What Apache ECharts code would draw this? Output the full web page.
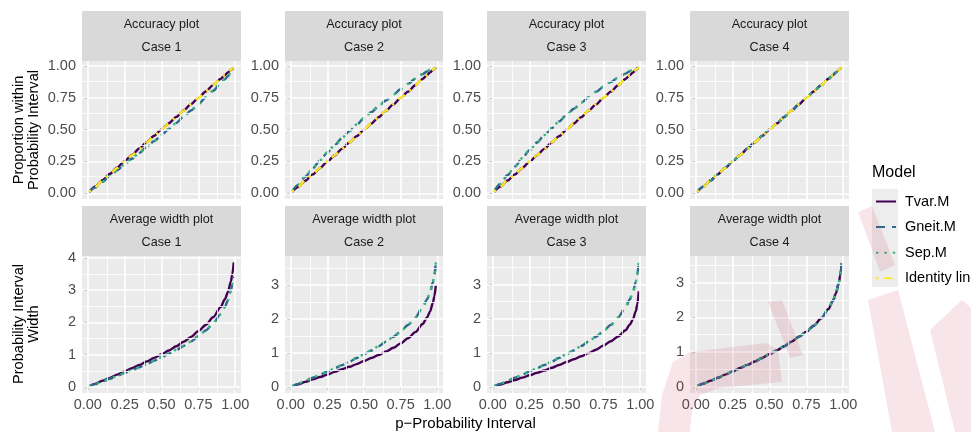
<!DOCTYPE html>
<html>
<head>
<meta charset="utf-8">
<script src="https://cdn.jsdelivr.net/npm/echarts@6/dist/echarts.min.js"></script>
<style>
html, body { margin: 0; padding: 0; background: #fff; }
#chart { width: 971px; height: 432px; }
</style>
</head>
<body>
<div id="chart"></div>
<script>
// p grid shared by every curve
const pGrid = [0.01, 0.05, 0.10, 0.15, 0.20, 0.25, 0.30, 0.35, 0.40, 0.45, 0.50, 0.55,
               0.60, 0.65, 0.70, 0.75, 0.80, 0.85, 0.90, 0.93, 0.95, 0.97, 0.98, 0.99];

const caseNames = ['Case 1', 'Case 2', 'Case 3', 'Case 4'];
const modelNames = ['Tvar.M', 'Gneit.M', 'Sep.M', 'Identity line'];

// accuracy plot: proportion within probability interval
const acc1Tvar  = [0.011, 0.052, 0.102, 0.153, 0.203, 0.253, 0.302, 0.352, 0.402, 0.452, 0.502, 0.551, 0.601, 0.651, 0.701, 0.750, 0.800, 0.850, 0.899, 0.929, 0.949, 0.969, 0.979, 0.989];
const acc1Gneit = [0.009, 0.045, 0.090, 0.136, 0.181, 0.227, 0.272, 0.318, 0.364, 0.410, 0.457, 0.505, 0.553, 0.602, 0.651, 0.701, 0.753, 0.806, 0.862, 0.897, 0.921, 0.948, 0.962, 0.977];
const acc1Sep   = [0.009, 0.046, 0.091, 0.137, 0.182, 0.228, 0.273, 0.319, 0.365, 0.411, 0.458, 0.506, 0.554, 0.603, 0.652, 0.702, 0.754, 0.807, 0.863, 0.898, 0.922, 0.949, 0.963, 0.978];

const acc2Tvar  = [0.010, 0.049, 0.099, 0.149, 0.199, 0.249, 0.299, 0.349, 0.399, 0.449, 0.499, 0.549, 0.599, 0.649, 0.699, 0.749, 0.799, 0.849, 0.899, 0.929, 0.949, 0.969, 0.979, 0.989];
const acc2Gneit = [0.014, 0.066, 0.130, 0.195, 0.258, 0.320, 0.378, 0.434, 0.488, 0.540, 0.590, 0.638, 0.685, 0.730, 0.775, 0.818, 0.860, 0.900, 0.937, 0.958, 0.971, 0.983, 0.989, 0.995];
const acc2Sep   = [0.015, 0.067, 0.131, 0.196, 0.259, 0.321, 0.379, 0.435, 0.489, 0.541, 0.591, 0.639, 0.686, 0.731, 0.776, 0.819, 0.861, 0.901, 0.938, 0.959, 0.972, 0.984, 0.990, 0.996];

const acc3Tvar  = [0.010, 0.050, 0.100, 0.149, 0.199, 0.249, 0.299, 0.349, 0.399, 0.449, 0.499, 0.549, 0.599, 0.649, 0.699, 0.749, 0.799, 0.849, 0.899, 0.929, 0.949, 0.969, 0.979, 0.989];
const acc3Gneit = [0.015, 0.072, 0.142, 0.210, 0.276, 0.339, 0.399, 0.457, 0.512, 0.565, 0.616, 0.665, 0.711, 0.755, 0.797, 0.837, 0.874, 0.909, 0.941, 0.960, 0.972, 0.983, 0.989, 0.995];
const acc3Sep   = [0.016, 0.073, 0.143, 0.211, 0.277, 0.340, 0.400, 0.458, 0.513, 0.566, 0.617, 0.666, 0.712, 0.756, 0.798, 0.838, 0.875, 0.910, 0.942, 0.961, 0.973, 0.984, 0.990, 0.996];

const acc4Tvar  = [0.010, 0.050, 0.100, 0.150, 0.200, 0.250, 0.300, 0.350, 0.400, 0.450, 0.500, 0.550, 0.600, 0.650, 0.700, 0.750, 0.800, 0.850, 0.900, 0.930, 0.950, 0.970, 0.980, 0.990];
const acc4Gneit = [0.010, 0.051, 0.101, 0.151, 0.201, 0.251, 0.301, 0.351, 0.401, 0.451, 0.501, 0.551, 0.601, 0.651, 0.700, 0.750, 0.800, 0.850, 0.900, 0.930, 0.950, 0.970, 0.980, 0.990];
const acc4Sep   = [0.010, 0.051, 0.101, 0.151, 0.201, 0.251, 0.301, 0.351, 0.401, 0.451, 0.501, 0.551, 0.601, 0.651, 0.700, 0.750, 0.800, 0.850, 0.900, 0.930, 0.950, 0.970, 0.980, 0.990];

// average width plot: probability interval width
const wid1Tvar  = [0.019, 0.094, 0.19, 0.28, 0.38, 0.48, 0.58, 0.68, 0.79, 0.90, 1.01, 1.13, 1.26, 1.40, 1.55, 1.73, 1.92, 2.16, 2.47, 2.72, 2.94, 3.26, 3.49, 3.86];
const wid1Gneit = [0.017, 0.085, 0.17, 0.25, 0.34, 0.43, 0.52, 0.61, 0.71, 0.81, 0.92, 1.03, 1.14, 1.27, 1.41, 1.57, 1.75, 1.97, 2.25, 2.48, 2.68, 2.98, 3.17, 3.42];
const wid1Sep   = [0.017, 0.086, 0.17, 0.25, 0.34, 0.43, 0.52, 0.61, 0.71, 0.81, 0.92, 1.03, 1.15, 1.27, 1.41, 1.57, 1.75, 1.97, 2.25, 2.48, 2.68, 2.98, 3.18, 3.43];

const wid2Tvar  = [0.015, 0.073, 0.146, 0.22, 0.29, 0.36, 0.44, 0.52, 0.59, 0.67, 0.76, 0.85, 0.94, 1.04, 1.15, 1.28, 1.43, 1.61, 1.85, 2.04, 2.21, 2.47, 2.66, 2.99];
const wid2Gneit = [0.018, 0.089, 0.18, 0.27, 0.36, 0.45, 0.55, 0.64, 0.74, 0.85, 0.96, 1.07, 1.20, 1.33, 1.47, 1.63, 1.82, 2.04, 2.34, 2.57, 2.78, 3.08, 3.30, 3.64];
const wid2Sep   = [0.018, 0.090, 0.18, 0.27, 0.36, 0.45, 0.55, 0.64, 0.74, 0.85, 0.96, 1.07, 1.20, 1.33, 1.47, 1.63, 1.82, 2.04, 2.34, 2.57, 2.78, 3.09, 3.31, 3.66];

const wid3Tvar  = [0.014, 0.068, 0.136, 0.20, 0.27, 0.34, 0.41, 0.48, 0.56, 0.64, 0.73, 0.81, 0.90, 0.99, 1.09, 1.21, 1.34, 1.48, 1.66, 1.83, 1.98, 2.22, 2.42, 2.80];
const wid3Gneit = [0.018, 0.089, 0.18, 0.27, 0.36, 0.45, 0.55, 0.64, 0.74, 0.85, 0.96, 1.07, 1.20, 1.33, 1.47, 1.63, 1.82, 2.04, 2.34, 2.57, 2.78, 3.08, 3.30, 3.64];
const wid3Sep   = [0.018, 0.090, 0.18, 0.27, 0.36, 0.45, 0.55, 0.64, 0.74, 0.85, 0.96, 1.07, 1.20, 1.33, 1.47, 1.63, 1.82, 2.04, 2.34, 2.57, 2.78, 3.09, 3.31, 3.66];

const wid4Tvar  = [0.017, 0.087, 0.175, 0.26, 0.35, 0.44, 0.54, 0.63, 0.73, 0.83, 0.94, 1.05, 1.17, 1.30, 1.44, 1.59, 1.76, 1.97, 2.24, 2.48, 2.69, 3.00, 3.22, 3.57];
const wid4Gneit = [0.017, 0.087, 0.175, 0.26, 0.35, 0.44, 0.54, 0.63, 0.73, 0.83, 0.94, 1.05, 1.17, 1.30, 1.44, 1.59, 1.76, 1.97, 2.24, 2.48, 2.69, 3.00, 3.22, 3.58];
const wid4Sep   = [0.017, 0.087, 0.175, 0.26, 0.35, 0.44, 0.54, 0.63, 0.73, 0.83, 0.94, 1.05, 1.17, 1.30, 1.44, 1.59, 1.76, 1.97, 2.24, 2.48, 2.69, 3.00, 3.22, 3.58];

// ticks
const xTicks = [0, 0.25, 0.5, 0.75, 1];
const xMinor = [0.125, 0.375, 0.625, 0.875];
const accTicks = [0, 0.25, 0.5, 0.75, 1];
const accMinor = [0.125, 0.375, 0.625, 0.875];
const widTicks = [[0, 1, 2, 3, 4], [0, 1, 2, 3], [0, 1, 2, 3], [0, 1, 2, 3]];
const widMinor = [[0.5, 1.5, 2.5, 3.5], [0.5, 1.5, 2.5, 3.5], [0.5, 1.5, 2.5, 3.5], [0.5, 1.5, 2.5, 3.5]];
const widMax = [4.06, 3.85, 3.84, 3.77];
const widMin = [-0.19, -0.18, -0.18, -0.18];

const accData = [
    [acc1Tvar, acc1Gneit, acc1Sep],
    [acc2Tvar, acc2Gneit, acc2Sep],
    [acc3Tvar, acc3Gneit, acc3Sep],
    [acc4Tvar, acc4Gneit, acc4Sep]
];
const widData = [
    [wid1Tvar, wid1Gneit, wid1Sep],
    [wid2Tvar, wid2Gneit, wid2Sep],
    [wid3Tvar, wid3Gneit, wid3Sep],
    [wid4Tvar, wid4Gneit, wid4Sep]
];

const font = '"Liberation Sans", Arial, sans-serif';
const colLeft = [82, 285, 487, 690];
const colWidth = [159, 158, 159, 159];
const rowTop = [61, 256];
const rowHeight = [138, 137];
const stripTop = [11, 206];

const styles = {
    'Tvar.M': { color: '#440154', width: 2.4, type: 'solid' },
    'Gneit.M': { color: '#31688E', width: 2.4, type: [9, 7] },
    'Sep.M': { color: '#35B779', width: 2.4, type: [2.4, 6] },
    'Identity line': { color: '#FDE725', width: 2.4, type: [2.4, 6, 8, 6] }
};

let grids = [];
let xAxes = [];
let yAxes = [];
let series = [];

function lineSeries(name, idx, ys, z) {
    return {
        type: 'line',
        name: name,
        xAxisIndex: idx,
        yAxisIndex: idx,
        data: pGrid.map((p, k) => [p, ys[k]]),
        symbol: 'none',
        smooth: 0.3,
        smoothMonotone: 'x',
        lineStyle: styles[name],
        itemStyle: { color: styles[name].color },
        z: z,
        silent: true,
        animation: false
    };
}

// white panel grid lines, hung on an invisible copy of the first curve
function gridLines(idx, ys, xs, xm, yt, ym) {
    let d = [];
    xs.forEach(v => d.push({ xAxis: v, lineStyle: { color: '#fff', width: 1.6, type: 'solid' } }));
    xm.forEach(v => d.push({ xAxis: v, lineStyle: { color: '#fff', width: 0.8, type: 'solid' } }));
    yt.forEach(v => d.push({ yAxis: v, lineStyle: { color: '#fff', width: 1.6, type: 'solid' } }));
    ym.forEach(v => d.push({ yAxis: v, lineStyle: { color: '#fff', width: 0.8, type: 'solid' } }));
    return {
        type: 'line',
        xAxisIndex: idx,
        yAxisIndex: idx,
        data: pGrid.map((p, k) => [p, ys[k]]),
        symbol: 'none',
        lineStyle: { opacity: 0 },
        z: 1,
        silent: true,
        animation: false,
        markLine: { silent: true, symbol: ['none', 'none'], label: { show: false }, animation: false, data: d }
    };
}

for (let r = 0; r < 2; r++) {
    for (let c = 0; c < 4; c++) {
        const idx = r * 4 + c;
        grids.push({
            left: colLeft[c], top: rowTop[r], width: colWidth[c], height: rowHeight[r],
            show: true, backgroundColor: '#EBEBEB', borderWidth: 0
        });
        xAxes.push({
            type: 'value', gridIndex: idx, min: -0.039, max: 1.039,
            splitLine: { show: false },
            axisLine: { show: false },
            axisTick: { show: r === 1, length: 3.7, lineStyle: { color: '#333', width: 1 }, customValues: xTicks },
            axisLabel: {
                show: r === 1, customValues: xTicks, formatter: v => v.toFixed(2),
                fontSize: 14.5, color: '#4D4D4D', margin: 4, fontFamily: font
            }
        });
        const yt = r === 0 ? accTicks : widTicks[c];
        yAxes.push({
            type: 'value', gridIndex: idx,
            min: r === 0 ? -0.045 : widMin[c],
            max: r === 0 ? 1.04 : widMax[c],
            splitLine: { show: false },
            axisLine: { show: false },
            axisTick: { show: true, length: 3.7, lineStyle: { color: '#333', width: 1 }, customValues: yt },
            axisLabel: {
                customValues: yt, formatter: v => (r === 0 ? v.toFixed(2) : String(v)),
                fontSize: 14.5, color: '#4D4D4D', margin: 6, fontFamily: font
            }
        });
        if (r === 0) {
            series.push(gridLines(idx, accData[c][0], xTicks, xMinor, accTicks, accMinor));
            series.push(lineSeries('Tvar.M', idx, accData[c][0], 2));
            series.push(lineSeries('Gneit.M', idx, accData[c][1], 3));
            series.push(lineSeries('Sep.M', idx, accData[c][2], 4));
            series.push(lineSeries('Identity line', idx, pGrid, 5));
        } else {
            series.push(gridLines(idx, widData[c][0], xTicks, xMinor, widTicks[c], widMinor[c]));
            series.push(lineSeries('Tvar.M', idx, widData[c][0], 2));
            series.push(lineSeries('Gneit.M', idx, widData[c][1], 3));
            series.push(lineSeries('Sep.M', idx, widData[c][2], 4));
        }
    }
}

// strips, titles, legend title and key background
let graphics = [];
const stripTitles = ['Accuracy plot', 'Average width plot'];
for (let r = 0; r < 2; r++) {
    for (let c = 0; c < 4; c++) {
        graphics.push({
            type: 'rect', shape: { x: colLeft[c], y: stripTop[r], width: colWidth[c], height: 50 },
            style: { fill: '#D9D9D9' }, silent: true
        });
        graphics.push({
            type: 'text', x: colLeft[c] + colWidth[c] / 2, y: stripTop[r] + 13.5,
            style: { text: stripTitles[r], fontSize: 12.6, fontFamily: font, fill: '#1A1A1A', align: 'center', verticalAlign: 'middle' },
            silent: true
        });
        graphics.push({
            type: 'text', x: colLeft[c] + colWidth[c] / 2, y: stripTop[r] + 37,
            style: { text: caseNames[c], fontSize: 12.6, fontFamily: font, fill: '#1A1A1A', align: 'center', verticalAlign: 'middle' },
            silent: true
        });
    }
}
graphics.push({
    type: 'text', x: 26.5, y: 130, rotation: Math.PI / 2,
    style: { text: 'Proportion within\nProbability Interval', fontSize: 14.6, lineHeight: 15, fontFamily: font, fill: '#000', align: 'center', verticalAlign: 'middle' },
    silent: true
});
graphics.push({
    type: 'text', x: 26.5, y: 324, rotation: Math.PI / 2,
    style: { text: 'Probability Interval\nWidth', fontSize: 14.6, lineHeight: 15, fontFamily: font, fill: '#000', align: 'center', verticalAlign: 'middle' },
    silent: true
});
graphics.push({
    type: 'text', x: 465.5, y: 424,
    style: { text: 'p\u2212Probability Interval', fontSize: 15, fontFamily: font, fill: '#000', align: 'center', verticalAlign: 'middle' },
    silent: true
});
graphics.push({
    type: 'text', x: 872, y: 173,
    style: { text: 'Model', fontSize: 16, fontFamily: font, fill: '#000', align: 'left', verticalAlign: 'middle' },
    silent: true
});
graphics.push({
    type: 'rect', shape: { x: 872, y: 189, width: 26, height: 98 },
    style: { fill: '#EDEDED' }, silent: true, z: -1
});
// faint watermark shapes in the lower right
const wm = 'rgba(200, 40, 80, 0.12)';
[
    [[658, 432], [662, 395], [673, 362], [690, 352], [767, 343], [778, 350], [782, 382], [720, 388], [700, 395], [692, 410], [690, 432]],
    [[768, 302], [782, 300], [803, 355], [790, 358]],
    [[858, 212], [872, 206], [895, 265], [880, 272]],
    [[868, 300], [898, 290], [935, 432], [892, 432]],
    [[930, 330], [962, 300], [971, 308], [971, 432], [955, 432]]
].forEach(pts => graphics.push({
    type: 'polygon', shape: { points: pts }, style: { fill: wm }, silent: true, z: 100
}));

let option = {
    animation: false,
    grid: grids,
    xAxis: xAxes,
    yAxis: yAxes,
    legend: {
        data: modelNames,
        orient: 'vertical',
        left: 875,
        top: 194,
        padding: 0,
        itemWidth: 20,
        itemHeight: 14,
        itemGap: 10.6,
        selectedMode: false,
        itemStyle: { color: 'rgba(0,0,0,0)', borderWidth: 0, opacity: 0 },
        textStyle: { fontSize: 14.5, color: '#000', fontFamily: font, padding: [0, 0, 0, 4] }
    },
    graphic: graphics,
    series: series
};

let chart = echarts.init(document.getElementById('chart'));
chart.setOption(option);
</script>
</body>
</html>
